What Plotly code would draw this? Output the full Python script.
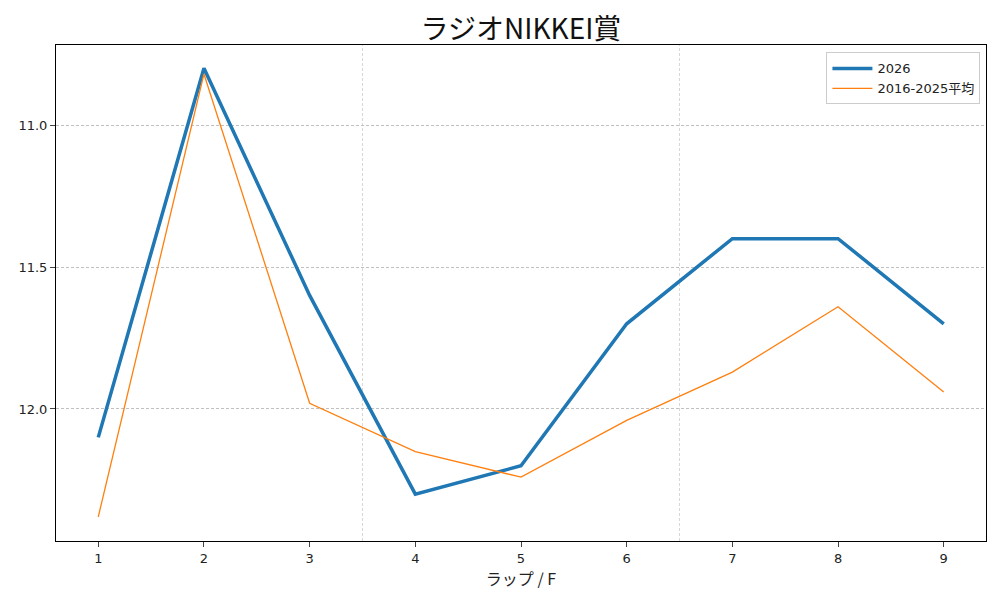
import plotly.graph_objects as go

laps = [1, 2, 3, 4, 5, 6, 7, 8, 9]
y2026 = [12.1, 10.8, 11.6, 12.3, 12.2, 11.7, 11.4, 11.4, 11.7]
yavg = [12.38, 10.82, 11.98, 12.15, 12.24, 12.04, 11.87, 11.64, 11.94]
section_lines = [3.5, 6.5]
yticks = [11.0, 11.5, 12.0]

FONT = "Noto Sans CJK JP"
TFONT = "DejaVu Sans, Noto Sans CJK JP"

fig = go.Figure()
fig.add_trace(go.Scatter(x=laps, y=y2026, mode="lines", name="2026",
                         line=dict(color="#1f77b4", width=3.5)))
fig.add_trace(go.Scatter(x=laps, y=yavg, mode="lines", name="2016-2025平均",
                         line=dict(color="#ff7f0e", width=1.3)))

for xv in section_lines:
    fig.add_shape(type="line", x0=xv, x1=xv, y0=0, y1=1, xref="x", yref="paper",
                  line=dict(color="#cccccc", width=0.8, dash="3px,2px"), layer="below")

fig.update_layout(
    width=1000, height=600,
    paper_bgcolor="white", plot_bgcolor="white",
    margin=dict(l=48, r=22, t=37, b=67),
    font=dict(family=TFONT, size=13, color="#222"),
    title=dict(text="ラジオNIKKEI賞", x=0.513, xanchor="center", y=0.965, yanchor="middle",
               font=dict(size=28, family=FONT, color="#111")),
    showlegend=True,
    legend=dict(x=0.994, y=0.985, xanchor="right", yanchor="top",
                bordercolor="#cccccc", borderwidth=1, bgcolor="rgba(255,255,255,0.8)",
                font=dict(size=13, family=TFONT), itemwidth=40, tracegroupgap=0),
    xaxis=dict(range=[0.6, 9.4], tickvals=laps, ticks="outside", ticklen=5,
               showline=True, linecolor="black", linewidth=1, mirror=True,
               showgrid=False, zeroline=False, automargin=False,
               title=dict(text="ラップ / F", font=dict(size=16, family=FONT), standoff=4)),
    yaxis=dict(range=[12.465, 10.718], tickvals=yticks, ticktext=["11.0", "11.5", "12.0"],
               ticks="outside", ticklen=5, automargin=False,
               showline=True, linecolor="black", linewidth=1, mirror=True,
               showgrid=True, gridcolor="#c0c0c0", gridwidth=0.7, griddash="3px,2px",
               zeroline=False),
)

fig.write_html("out.html")
